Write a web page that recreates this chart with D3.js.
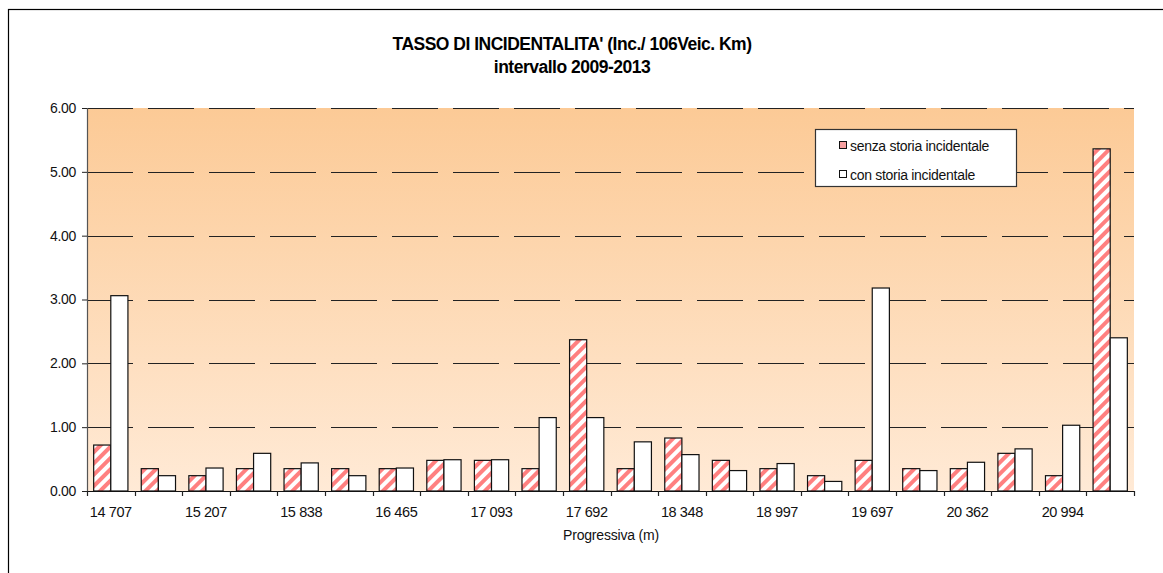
<!DOCTYPE html>
<html>
<head>
<meta charset="utf-8">
<script src="https://cdn.jsdelivr.net/npm/d3@7/dist/d3.min.js"></script>
<style>
  html, body { margin: 0; padding: 0; background: #fff; }
  svg { display: block; font-family: "Liberation Sans", Arial, sans-serif; }
</style>
</head>
<body>
<svg id="chart" width="1163" height="573"></svg>
<script>
// Progressive positions (m); only every other one carries a label
const categories = ["14 707", "", "15 207", "", "15 838", "", "16 465", "", "17 093", "",
                    "17 692", "", "18 348", "", "18 997", "", "19 697", "", "20 362", "",
                    "20 994", ""];
const seriesNames = ["senza storia incidentale", "con storia incidentale"];
const senzaStoria = [0.72, 0.35, 0.24, 0.35, 0.35, 0.35, 0.35, 0.48, 0.48, 0.35, 2.37,
                     0.35, 0.83, 0.48, 0.35, 0.24, 0.48, 0.35, 0.35, 0.59, 0.24, 5.36];
const conStoria   = [3.06, 0.24, 0.36, 0.59, 0.44, 0.24, 0.36, 0.49, 0.49, 1.15, 1.15,
                     0.77, 0.57, 0.32, 0.43, 0.15, 3.18, 0.32, 0.45, 0.66, 1.03, 2.40];
const yTicks = [0, 1, 2, 3, 4, 5, 6];

(function () {
const svg = d3.select("#chart");
const plotLeft = 87, plotRight = 1134, plotTop = 108, plotBottom = 491;

const defs = svg.append("defs");
const grad = defs.append("linearGradient")
  .attr("id", "bg").attr("x1", 0).attr("y1", 0).attr("x2", 0).attr("y2", 1);
grad.append("stop").attr("offset", "0%").attr("stop-color", "#FCCA96");
grad.append("stop").attr("offset", "100%").attr("stop-color", "#FFEAD6");

const hatch = defs.append("pattern")
  .attr("id", "hatch").attr("patternUnits", "userSpaceOnUse")
  .attr("width", 8).attr("height", 8)
  .attr("patternTransform", "rotate(45)");
hatch.append("rect").attr("width", 8).attr("height", 8).attr("fill", "#fff");
hatch.append("rect").attr("width", 4).attr("height", 8).attr("fill", "#FF8080");

// outer frame
svg.append("rect")
  .attr("x", 8.5).attr("y", 9.5).attr("width", 1170).attr("height", 580)
  .attr("fill", "none").attr("stroke", "#000").attr("stroke-width", 1.2);

const idx = categories.map((_, i) => i);
const x0 = d3.scaleBand().domain(idx).range([plotLeft, plotRight]).padding(0);
const bw = x0.bandwidth();
const x1 = d3.scaleBand().domain(seriesNames).range([bw * 0.14, bw * 0.86]).padding(0);
const y = d3.scaleLinear().domain([0, 6]).range([plotBottom, plotTop]);

// plot background
svg.append("rect")
  .attr("x", plotLeft).attr("y", plotTop)
  .attr("width", plotRight - plotLeft).attr("height", plotBottom - plotTop)
  .attr("fill", "url(#bg)");

// dashed gridlines
svg.append("g").selectAll("line")
  .data(yTicks.filter(d => d > 0))
  .join("line")
  .attr("x1", plotLeft).attr("x2", plotRight)
  .attr("y1", d => Math.round(y(d)) + 0.5).attr("y2", d => Math.round(y(d)) + 0.5)
  .attr("stroke", "#222").attr("stroke-width", 1)
  .attr("stroke-dasharray", "46,15");

// bars
const series = [
  { name: seriesNames[0], values: senzaStoria, fill: "url(#hatch)" },
  { name: seriesNames[1], values: conStoria, fill: "#fff" }
];
const gBars = svg.append("g");
series.forEach(s => {
  gBars.selectAll(null)
    .data(s.values)
    .join("rect")
    .attr("x", (d, i) => x0(i) + x1(s.name))
    .attr("y", d => y(d))
    .attr("width", x1.bandwidth())
    .attr("height", d => y(0) - y(d))
    .attr("fill", s.fill)
    .attr("stroke", "#111").attr("stroke-width", 1.2);
});

// y axis
const yAxis = svg.append("g")
  .attr("transform", `translate(${plotLeft},0)`)
  .call(d3.axisLeft(y).tickValues(yTicks).tickFormat(d3.format(".2f")).tickSize(5).tickPadding(6));
yAxis.select(".domain").attr("stroke", "#555").attr("stroke-width", 1.2);
yAxis.selectAll(".tick line").attr("stroke", "#222");
yAxis.selectAll("text").attr("font-size", 14).attr("letter-spacing", -0.3).attr("fill", "#111")
  .attr("font-family", "'Liberation Sans', Arial, sans-serif");

// x axis: ticks at category boundaries
const bounds = d3.range(categories.length + 1).map(i => plotLeft + i * bw);
const xAxis = svg.append("g");
xAxis.append("line")
  .attr("x1", plotLeft).attr("x2", plotRight)
  .attr("y1", plotBottom + 0.5).attr("y2", plotBottom + 0.5)
  .attr("stroke", "#111").attr("stroke-width", 1.2);
xAxis.selectAll("line.tk")
  .data(bounds)
  .join("line").attr("class", "tk")
  .attr("x1", d => Math.round(d) + 0.5).attr("x2", d => Math.round(d) + 0.5)
  .attr("y1", plotBottom).attr("y2", plotBottom + 5)
  .attr("stroke", "#222").attr("stroke-width", 1.2);
xAxis.selectAll("text")
  .data(idx.filter(i => categories[i] !== ""))
  .join("text")
  .attr("x", i => x0(i) + bw / 2)
  .attr("y", 517)
  .attr("text-anchor", "middle")
  .attr("font-size", 14.5).attr("letter-spacing", -0.4).attr("fill", "#111")
  .text(i => categories[i]);

svg.append("text")
  .attr("x", 611).attr("y", 540).attr("text-anchor", "middle")
  .attr("font-size", 14).attr("letter-spacing", -0.2).attr("fill", "#111")
  .text("Progressiva (m)");

// title
svg.append("text")
  .attr("x", 572).attr("y", 50).attr("text-anchor", "middle")
  .attr("font-size", 17.5).attr("font-weight", "bold").attr("letter-spacing", -0.5)
  .attr("fill", "#000")
  .text("TASSO DI INCIDENTALITA' (Inc./ 106Veic. Km)");
svg.append("text")
  .attr("x", 572).attr("y", 73).attr("text-anchor", "middle")
  .attr("font-size", 17.5).attr("font-weight", "bold").attr("letter-spacing", -0.5)
  .attr("fill", "#000")
  .text("intervallo 2009-2013");

// legend
const legend = svg.append("g");
legend.append("rect")
  .attr("x", 815.5).attr("y", 129.5).attr("width", 201).attr("height", 57)
  .attr("fill", "#fff").attr("stroke", "#333").attr("stroke-width", 1.2);
series.forEach((s, i) => {
  const ly = 146 + i * 29;
  legend.append("rect")
    .attr("x", 839.5).attr("y", ly - 4.5).attr("width", 7).attr("height", 7)
    .attr("fill", i === 0 ? "#F7A0A0" : "#fff")
    .attr("stroke", "#111").attr("stroke-width", 1);
  legend.append("text")
    .attr("x", 850).attr("y", ly + 4.5)
    .attr("font-size", 14).attr("letter-spacing", -0.3).attr("fill", "#111")
    .text(s.name);
});
})();
</script>
</body>
</html>
